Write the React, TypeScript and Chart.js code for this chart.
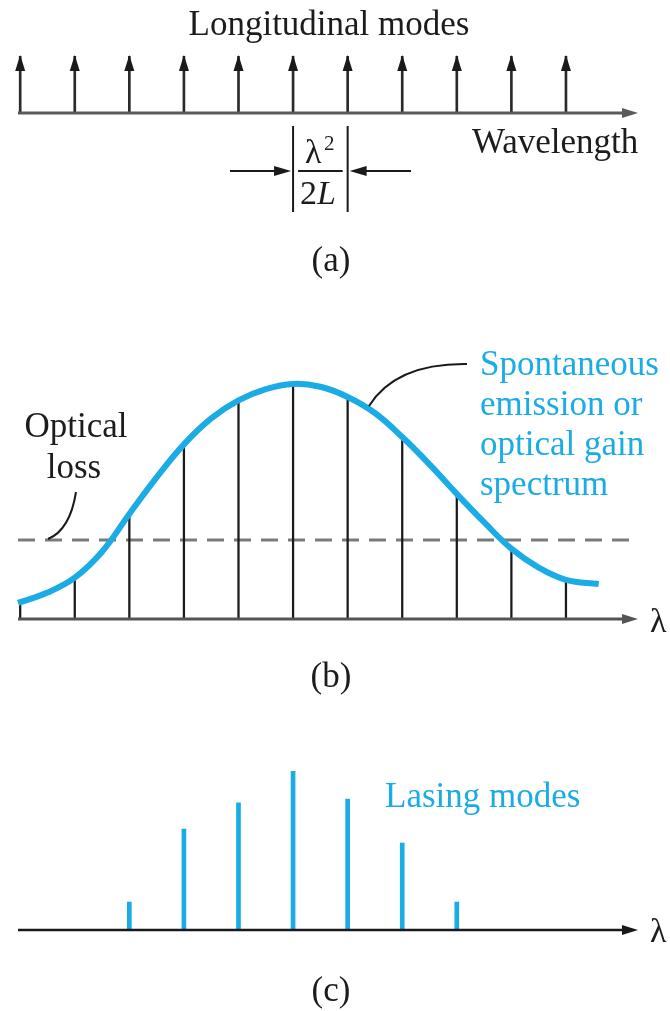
import React, { useEffect, useRef } from "react";
import { Chart, registerables } from "chart.js";

Chart.register(...registerables);

// ---- data ----
const MODE_INDEX = [0, 1, 2, 3, 4, 5, 6, 7, 8, 9, 10];
const MODE_ARROW_HEIGHT = [1, 1, 1, 1, 1, 1, 1, 1, 1, 1, 1];
const GAIN_X = [-0.04, 0.5, 1, 1.5, 2, 2.5, 3, 3.5, 4, 4.5, 5, 5.5, 6, 6.5, 7, 7.5, 8, 8.5, 9, 9.5, 10, 10.6];
const GAIN_Y = [0.068, 0.112, 0.175, 0.285, 0.445, 0.6, 0.74, 0.85, 0.926, 0.974, 0.996, 0.984, 0.941, 0.873, 0.771, 0.655, 0.53, 0.41, 0.298, 0.218, 0.166, 0.148];
const MODE_GAIN = [0.068, 0.175, 0.445, 0.74, 0.926, 0.996, 0.941, 0.771, 0.53, 0.298, 0.166];
const LOSS_X = [-0.04, 11.2];
const LOSS_LEVEL = 0.335;
const LASING_INDEX = [2, 3, 4, 5, 6, 7, 8];
const LASING_POWER = [0.176, 0.635, 0.8, 1.0, 0.824, 0.547, 0.176];
const X_MIN = -0.04;
const X_MAX = 11.32;

const TEXT_TOP = "Longitudinal modes";
const TEXT_WAVELENGTH = "Wavelength";
const TEXT_SPONT = ["Spontaneous", "emission or", "optical gain", "spectrum"];
const TEXT_LOSS = ["Optical", "loss"];
const TEXT_LASING = "Lasing modes";
const PANEL_LABELS = ["(a)", "(b)", "(c)"];

const BLUE = "#1BABE5";
const INK = "#1c1c1c";
const SERIF = '"Liberation Serif", "Times New Roman", serif';

function arrowLine(ctx: CanvasRenderingContext2D, x0: number, y0: number, x1: number, y1: number, color: string, lw: number, headLen: number, headHalf: number) {
  const dx = x1 - x0, dy = y1 - y0;
  const len = Math.hypot(dx, dy);
  const ux = dx / len, uy = dy / len;
  const bx = x1 - ux * headLen, by = y1 - uy * headLen;
  ctx.save();
  ctx.strokeStyle = color;
  ctx.fillStyle = color;
  ctx.lineWidth = lw;
  ctx.beginPath();
  ctx.moveTo(x0, y0);
  ctx.lineTo(bx + ux * 1, by + uy * 1);
  ctx.stroke();
  ctx.beginPath();
  ctx.moveTo(x1, y1);
  ctx.lineTo(bx - uy * headHalf, by + ux * headHalf);
  ctx.lineTo(bx + uy * headHalf, by - ux * headHalf);
  ctx.closePath();
  ctx.fill();
  ctx.restore();
}

function text(ctx: CanvasRenderingContext2D, s: string, x: number, y: number, size: number, color: string, align: CanvasTextAlign = "left", style = "") {
  ctx.save();
  ctx.font = `${style} ${size}px ${SERIF}`.trim();
  ctx.fillStyle = color;
  ctx.textAlign = align;
  ctx.textBaseline = "alphabetic";
  ctx.fillText(s, x, y);
  ctx.restore();
}

function baseOptions(padding: any) {
  return {
    responsive: false,
    animation: false as const,
    events: [] as any[],
    layout: { padding },
    plugins: {
      legend: { display: false },
      tooltip: { enabled: false },
      title: { display: false },
    },
    scales: {
      x: { type: "linear" as const, min: X_MIN, max: X_MAX, display: false, offset: false },
      y: { type: "linear" as const, min: 0, max: 1, display: false },
    },
  };
}

export default function App() {
  const refA = useRef<HTMLCanvasElement>(null);
  const refB = useRef<HTMLCanvasElement>(null);
  const refC = useRef<HTMLCanvasElement>(null);

  useEffect(() => {
    const charts: Chart[] = [];

    // ---- panel (a) ----
    const pluginA = {
      id: "panelA",
      afterDraw(chart: any) {
        const ctx = chart.ctx as CanvasRenderingContext2D;
        const area = chart.chartArea;
        const xs = chart.scales.x;
        arrowLine(ctx, area.left, area.bottom, area.right, area.bottom, "#5a5a5a", 3, 16, 5);
        const meta = chart.getDatasetMeta(0);
        ctx.save();
        ctx.fillStyle = "#1a1a1a";
        meta.data.forEach((el: any) => {
          ctx.beginPath();
          ctx.moveTo(el.x, el.y - 1);
          ctx.lineTo(el.x - 5, el.y + 15);
          ctx.lineTo(el.x + 5, el.y + 15);
          ctx.closePath();
          ctx.fill();
        });
        ctx.restore();
        text(ctx, TEXT_TOP, 329, 35, 35, INK, "center");
        text(ctx, TEXT_WAVELENGTH, 472, 153, 35, INK, "left");
        const p5 = xs.getPixelForValue(5);
        const p6 = xs.getPixelForValue(6);
        ctx.save();
        ctx.strokeStyle = "#1a1a1a";
        ctx.lineWidth = 2;
        ctx.beginPath();
        ctx.moveTo(p5, 126); ctx.lineTo(p5, 212);
        ctx.moveTo(p6, 126); ctx.lineTo(p6, 212);
        ctx.stroke();
        ctx.beginPath();
        ctx.moveTo(p5 + 5, 171); ctx.lineTo(p6 - 5, 171);
        ctx.stroke();
        ctx.restore();
        text(ctx, "λ", 305, 163, 34, INK, "left");
        text(ctx, "2", 324, 150, 21, INK, "left");
        text(ctx, "2", 300, 204, 34, INK, "left");
        text(ctx, "L", 317, 204, 34, INK, "left", "italic");
        arrowLine(ctx, 230, 171, p5 - 2, 171, "#1a1a1a", 2, 17, 5);
        arrowLine(ctx, 411, 171, p6 + 2, 171, "#1a1a1a", 2, 17, 5);
        text(ctx, PANEL_LABELS[0], 331, 271, 35, INK, "center");
      },
    };
    if (refA.current) {
      charts.push(
        new Chart(refA.current, {
          type: "bar",
          data: {
            datasets: [
              {
                type: "bar",
                data: MODE_INDEX.map((x, i) => ({ x, y: MODE_ARROW_HEIGHT[i] })),
                backgroundColor: "#2a2a2a",
                borderWidth: 0,
                barThickness: 2,
                grouped: false,
              } as any,
            ],
          },
          options: baseOptions({ left: 18, right: 32, top: 56, bottom: 177 }) as any,
          plugins: [pluginA],
        })
      );
    }

    // ---- panel (b) ----
    const pluginB = {
      id: "panelB",
      afterDraw(chart: any) {
        const ctx = chart.ctx as CanvasRenderingContext2D;
        const area = chart.chartArea;
        arrowLine(ctx, area.left, area.bottom, area.right, area.bottom, "#555", 3, 16, 5);
        text(ctx, "λ", 650, 342, 34, INK, "left");
        TEXT_SPONT.forEach((s, i) => text(ctx, s, 480, 85 + i * 40, 35, BLUE, "left"));
        text(ctx, TEXT_LOSS[0], 76, 147, 35, INK, "center");
        text(ctx, TEXT_LOSS[1], 74, 188, 35, INK, "center");
        ctx.save();
        ctx.strokeStyle = "#1a1a1a";
        ctx.lineWidth = 2;
        ctx.beginPath();
        ctx.moveTo(76, 202);
        ctx.quadraticCurveTo(70, 240, 48, 249);
        ctx.stroke();
        ctx.beginPath();
        ctx.moveTo(369, 116);
        ctx.quadraticCurveTo(396, 73, 467, 74);
        ctx.stroke();
        ctx.restore();
        text(ctx, PANEL_LABELS[1], 331, 397, 35, INK, "center");
      },
    };
    if (refB.current) {
      charts.push(
        new Chart(refB.current, {
          type: "bar",
          data: {
            datasets: [
              {
                type: "line",
                data: GAIN_X.map((x, i) => ({ x, y: GAIN_Y[i] })),
                borderColor: BLUE,
                borderWidth: 6,
                pointRadius: 0,
                tension: 0.4,
                fill: false,
                clip: false,
                order: 0,
              } as any,
              {
                type: "bar",
                data: MODE_INDEX.map((x, i) => ({ x, y: MODE_GAIN[i] })),
                backgroundColor: "#1a1a1a",
                borderWidth: 0,
                barThickness: 1.6,
                grouped: false,
                order: 1,
              } as any,
              {
                type: "line",
                data: LOSS_X.map((x) => ({ x, y: LOSS_LEVEL })),
                borderColor: "#7a7a7a",
                borderWidth: 3,
                borderDash: [17, 10],
                pointRadius: 0,
                fill: false,
                clip: false,
                order: 2,
              } as any,
            ],
          },
          options: baseOptions({ left: 18, right: 32, top: 93, bottom: 91 }) as any,
          plugins: [pluginB],
        })
      );
    }

    // ---- panel (c) ----
    const pluginC = {
      id: "panelC",
      afterDraw(chart: any) {
        const ctx = chart.ctx as CanvasRenderingContext2D;
        const area = chart.chartArea;
        arrowLine(ctx, area.left, area.bottom, area.right, area.bottom, "#1a1a1a", 2.5, 16, 5);
        text(ctx, "λ", 650, 232, 34, INK, "left");
        text(ctx, TEXT_LASING, 385, 97, 35, BLUE, "left");
        text(ctx, PANEL_LABELS[2], 331, 291, 35, INK, "center");
      },
    };
    if (refC.current) {
      charts.push(
        new Chart(refC.current, {
          type: "bar",
          data: {
            datasets: [
              {
                type: "bar",
                data: LASING_INDEX.map((x, i) => ({ x, y: LASING_POWER[i] })),
                backgroundColor: BLUE,
                borderWidth: 0,
                barThickness: 4,
                grouped: false,
              } as any,
            ],
          },
          options: baseOptions({ left: 18, right: 32, top: 61, bottom: 81 }) as any,
          plugins: [pluginC],
        })
      );
    }

    return () => charts.forEach((c) => c.destroy());
  }, []);

  return (
    <div style={{ position: "relative", width: 670, height: 1011, background: "#fff", overflow: "hidden" }}>
      <style>{`body{margin:0;background:#fff;}`}</style>
      <canvas ref={refA} width={670} height={290} style={{ position: "absolute", left: 0, top: 0, width: 670, height: 290 }} />
      <canvas ref={refB} width={670} height={420} style={{ position: "absolute", left: 0, top: 290, width: 670, height: 420 }} />
      <canvas ref={refC} width={670} height={301} style={{ position: "absolute", left: 0, top: 710, width: 670, height: 301 }} />
    </div>
  );
}
